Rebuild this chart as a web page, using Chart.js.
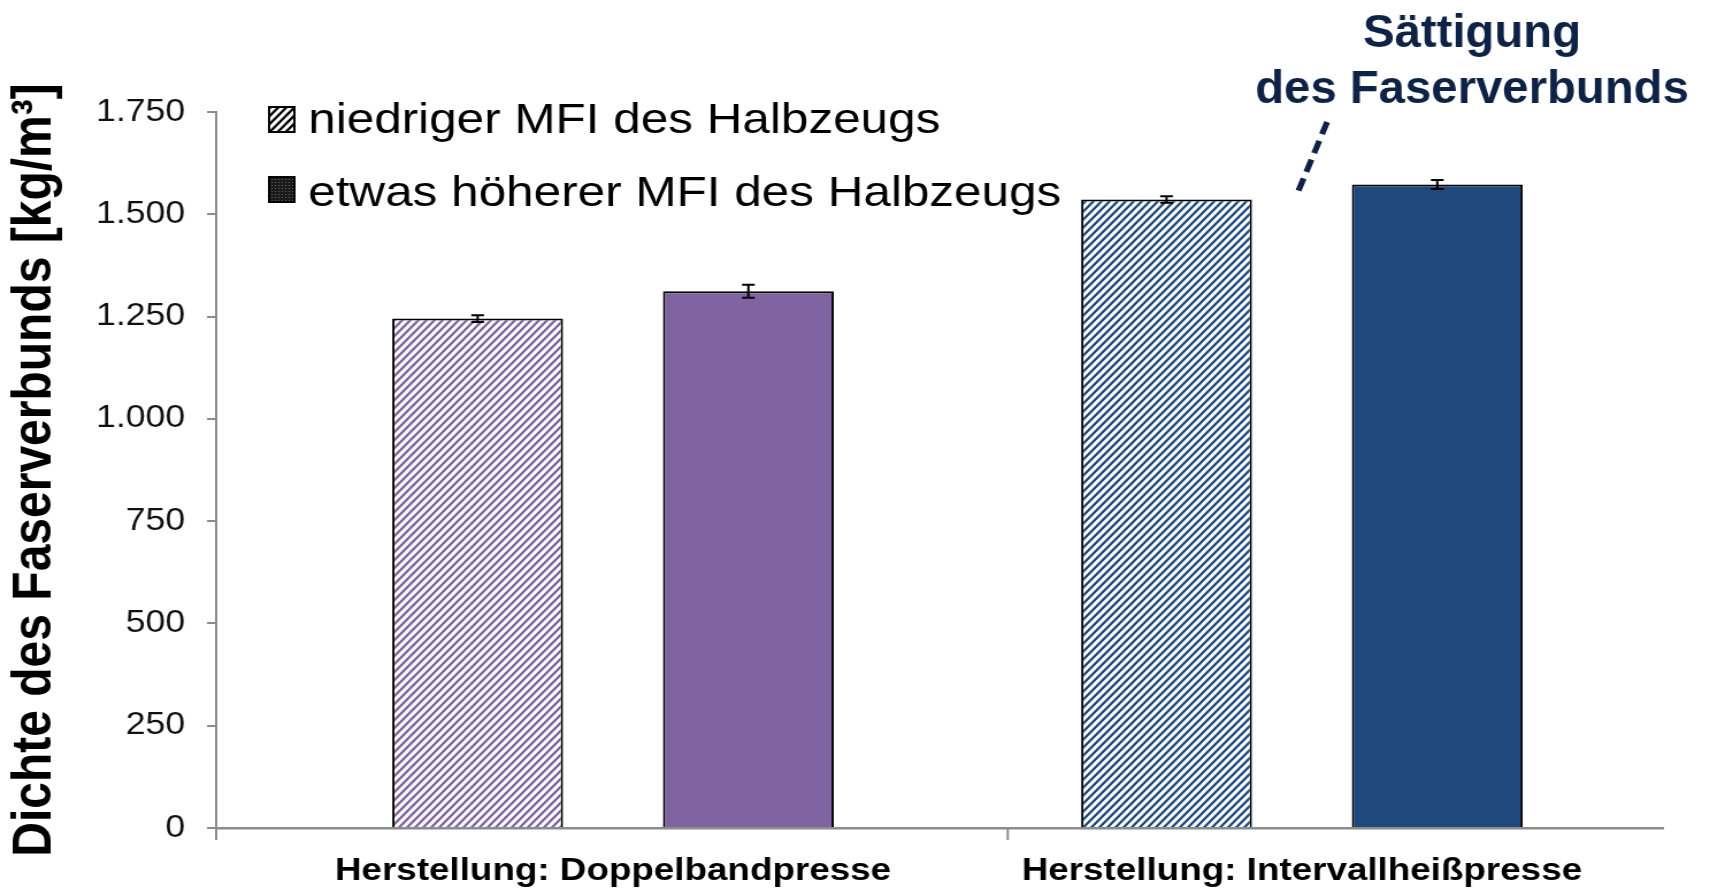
<!DOCTYPE html>
<html>
<head>
<meta charset="utf-8">
<script src="https://cdn.jsdelivr.net/npm/chart.js@4.4.1/dist/chart.umd.min.js"></script>
<style>
  html, body { margin: 0; padding: 0; background: #fff; overflow: hidden; }
  /* das Original ist horizontal gestreckt */
  #wrap { width: 1487px; height: 890px; transform: scaleX(1.15); transform-origin: 0 0; }
</style>
</head>
<body>
<div id="wrap"><canvas id="myChart" width="1487" height="890"></canvas></div>
<script>
const kategorien = ["Herstellung: Doppelbandpresse", "Herstellung: Intervallheißpresse"];
const serien = ["niedriger MFI des Halbzeugs", "etwas höherer MFI des Halbzeugs"];
const dichteNiedrig = [1245, 1536];
const fehlerNiedrig = [8, 8];
const dichteHoeher = [1312, 1573];
const fehlerHoeher = [16, 11];
const yTicks = [0, 250, 500, 750, 1000, 1250, 1500, 1750];
const hinweis = ["Sättigung", "des Faserverbunds"];

const lila = "#8064A2";
const blau = "#1F497D";
const achsenFarbe = "#8c8c8c";
const schrift = "'Liberation Sans', Arial, sans-serif";

Chart.defaults.font.family = schrift;

function schraffur(farbe, hintergrund) {
  const w = 7, h = 8;
  const c = document.createElement("canvas");
  c.width = w;
  c.height = h;
  const g = c.getContext("2d");
  g.fillStyle = hintergrund;
  g.fillRect(0, 0, w, h);
  g.strokeStyle = farbe;
  g.lineWidth = 2.3;
  g.beginPath();
  for (let k = 0; k <= 2; k++) {
    g.moveTo(w * (k + 0.5), -0.5 * h);
    g.lineTo(w * (k - 1.5), 1.5 * h);
  }
  g.stroke();
  return g.createPattern(c, "repeat");
}

function punkt(v) {
  return String(v).replace(/\B(?=(\d{3})+(?!\d))/g, ".");
}

const zusatz = {
  id: "zusatz",
  afterDatasetsDraw(chart) {
    const ctx = chart.ctx;
    const y = chart.scales.y;
    const fehler = [fehlerNiedrig, fehlerHoeher];
    chart.data.datasets.forEach(function (ds, i) {
      chart.getDatasetMeta(i).data.forEach(function (bar, j) {
        const v = ds.data[j].y;
        const e = fehler[i][j];
        const y1 = y.getPixelForValue(v + e);
        const y2 = y.getPixelForValue(v - e);
        ctx.save();
        ctx.strokeStyle = "#000";
        ctx.lineWidth = 2;
        ctx.beginPath();
        ctx.moveTo(bar.x, y1);
        ctx.lineTo(bar.x, y2);
        ctx.moveTo(bar.x - 5.5, y1);
        ctx.lineTo(bar.x + 5.5, y1);
        ctx.moveTo(bar.x - 5.5, y2);
        ctx.lineTo(bar.x + 5.5, y2);
        ctx.stroke();
        ctx.restore();
      });
    });
  },
  afterDraw(chart) {
    const ctx = chart.ctx;
    const x = chart.scales.x;
    const ca = chart.chartArea;

    // Teilstriche zwischen den Rubriken
    ctx.save();
    ctx.strokeStyle = achsenFarbe;
    ctx.lineWidth = 2;
    [x.min, 0.573].forEach(function (v) {
      const px = x.getPixelForValue(v);
      ctx.beginPath();
      ctx.moveTo(px, ca.bottom);
      ctx.lineTo(px, ca.bottom + 12);
      ctx.stroke();
    });
    ctx.restore();

    // Legende
    ctx.save();
    ctx.font = "43px " + schrift;
    ctx.textAlign = "left";
    ctx.textBaseline = "alphabetic";
    const grundlinien = [133, 206];
    const symbolOben = [107, 177];
    serien.forEach(function (s, i) {
      if (i === 0) {
        ctx.fillStyle = schraffur("#000", "#fff");
        ctx.fillRect(234, symbolOben[i], 22, 25);
      } else {
        ctx.fillStyle = "#1a1a1a";
        ctx.fillRect(234, symbolOben[i], 22, 25);
        ctx.fillStyle = "#666";
        for (let a = 236; a < 255; a += 3) {
          for (let b = symbolOben[i] + 2; b < symbolOben[i] + 24; b += 3) {
            ctx.fillRect(a, b, 1, 1);
          }
        }
      }
      ctx.strokeStyle = "#000";
      ctx.lineWidth = 2;
      ctx.strokeRect(234, symbolOben[i], 22, 25);
      ctx.fillStyle = "#000";
      ctx.fillText(s, 268, grundlinien[i]);
    });
    ctx.restore();

    // Hinweis oben rechts
    ctx.save();
    ctx.fillStyle = "#0e2245";
    ctx.font = "bold 47px " + schrift;
    ctx.textAlign = "center";
    ctx.textBaseline = "alphabetic";
    [47, 103].forEach(function (base, i) {
      ctx.save();
      ctx.translate(1280, base);
      ctx.scale(0.875, 1);
      ctx.fillText(hinweis[i], 0, 0);
      ctx.restore();
    });
    ctx.strokeStyle = "#0e2245";
    ctx.lineWidth = 5.2;
    ctx.setLineDash([13, 7]);
    ctx.beginPath();
    ctx.moveTo(1154, 122);
    ctx.lineTo(1129, 191);
    ctx.stroke();
    ctx.restore();
  }
};

const data = {
  datasets: [
    {
      label: serien[0],
      data: dichteNiedrig.map(function (v, i) { return { x: i, y: v }; }),
      backgroundColor: [schraffur(lila, "#fff"), schraffur(blau, "#fff")],
      borderColor: "#000",
      borderWidth: 2
    },
    {
      label: serien[1],
      data: dichteHoeher.map(function (v, i) { return { x: i, y: v }; }),
      backgroundColor: [lila, blau],
      borderColor: "#000",
      borderWidth: 2
    }
  ]
};

const config = {
  type: "bar",
  data: data,
  plugins: [zusatz],
  options: {
    responsive: false,
    animation: false,
    devicePixelRatio: 1,
    categoryPercentage: 0.786,
    barPercentage: 0.631,
    layout: { padding: { top: 112, right: 41, bottom: 0, left: 0 } },
    plugins: {
      legend: { display: false },
      tooltip: { enabled: false }
    },
    scales: {
      x: {
        type: "linear",
        min: -0.576,
        max: 1.524,
        offset: false,
        afterFit: function (scale) { scale.height = 62; },
        afterBuildTicks: function (scale) {
          scale.ticks = kategorien.map(function (k, i) { return { value: i }; });
        },
        grid: { display: false, drawTicks: false, offset: false },
        border: { display: true, color: achsenFarbe, width: 2.5 },
        ticks: {
          autoSkip: false,
          maxRotation: 0,
          padding: 24,
          color: "#000",
          font: { size: 32, weight: "bold" },
          callback: function (v) { return kategorien[v]; }
        }
      },
      y: {
        min: 0,
        max: 1750,
        afterFit: function (scale) { scale.width = 188; },
        afterBuildTicks: function (scale) {
          scale.ticks = yTicks.map(function (v) { return { value: v }; });
        },
        grid: { drawOnChartArea: false, drawTicks: true, tickLength: 8, color: achsenFarbe, lineWidth: 2 },
        border: { display: true, color: achsenFarbe, width: 2 },
        ticks: {
          padding: 19,
          color: "#111",
          font: { size: 31 },
          callback: function (v) { return punkt(v); }
        },
        title: {
          display: true,
          text: "Dichte des Faserverbunds [kg/m³]",
          color: "#000",
          font: { size: 48, weight: "bold", lineHeight: 1 },
          padding: { top: 7, bottom: 0 }
        }
      }
    }
  }
};

new Chart(document.getElementById("myChart"), config);
</script>
</body>
</html>
